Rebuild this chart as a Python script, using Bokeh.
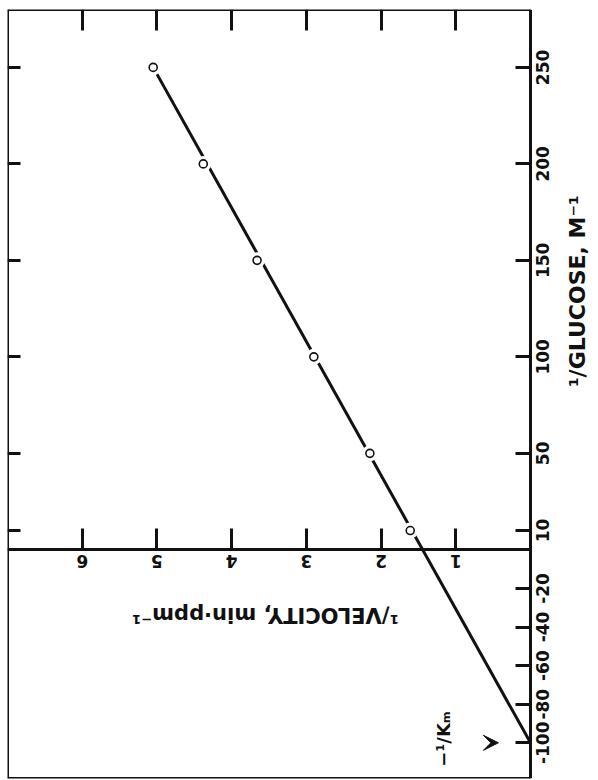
import math
from bokeh.plotting import figure
from bokeh.models import Range1d, LinearAxis, FixedTicker, Label, Arrow, VeeHead
from bokeh.embed import file_html
from bokeh.resources import INLINE
from bokeh.core.properties import value

# ---- data read from the (rotated) Lineweaver-Burk plot ----
inv_glucose = [250, 200, 150, 100, 50, 10]            # 1/[glucose], M^-1
inv_velocity = [5.05, 4.38, 3.66, 2.90, 2.15, 1.61]   # 1/v, min·ppm^-1
fit_glucose = [-100, 250]
fit_velocity = [0.0, 5.05]
neg_inv_km = -100

glucose_ticks = [-100, -80, -60, -40, -20, 10, 50, 100, 150, 200, 250]
glucose_tick_labels = ["-100", "-80", "-60", "-40", "-20", "10", "50", "100", "150", "200", "250"]
left_ticks = [10, 50, 100, 150, 200, 250]
velocity_ticks = [1, 2, 3, 4, 5, 6]
velocity_tick_labels = ["1", "2", "3", "4", "5", "6"]

V_MAX, V_MIN = 7.0, 0.0          # boxed 1/v extent
G_MIN, G_MAX = -118.5, 280.0     # 1/glucose extent

FONT = "DejaVu Sans"
INK = "#111111"

p = figure(width=596, height=780,
           x_range=Range1d(V_MAX, -0.883), y_range=Range1d(G_MIN, G_MAX),
           x_axis_location=None, y_axis_location=None,
           toolbar_location=None, output_backend="svg",
           min_border_left=7, min_border_top=9, min_border_bottom=2, min_border_right=0)
p.grid.visible = False
p.outline_line_color = None
p.background_fill_color = "white"
p.border_fill_color = "white"


def style(ax, tick_in):
    ax.major_tick_in = tick_in
    ax.major_tick_out = 0
    ax.major_tick_line_width = 3
    ax.major_tick_line_color = INK
    ax.minor_tick_line_color = None
    ax.axis_line_width = 3
    ax.axis_line_color = INK
    ax.major_label_standoff = 0


def axis(ticks, loc, tick_in, bounds=None):
    ax = LinearAxis(ticker=FixedTicker(ticks=ticks), fixed_location=loc,
                    major_label_overrides={t: "" for t in ticks})
    if bounds is not None:
        ax.bounds = bounds
    style(ax, tick_in)
    return ax


# box: top (with 1/v ticks), bottom, left (ticks), right (1/v = 0, with 1/glucose ticks)
p.add_layout(axis(velocity_ticks, G_MAX, 21, (V_MIN, V_MAX)), "above")
p.add_layout(axis([], G_MIN, 0, (V_MIN, V_MAX)), "below")
p.add_layout(axis(left_ticks, V_MAX, 13), "left")
p.add_layout(axis(glucose_ticks, V_MIN, 15), "right")
# 1/v axis drawn at 1/glucose = 0
p.add_layout(axis(velocity_ticks, 0, 21, (V_MIN, V_MAX)), "below")

# rotated 1/glucose tick labels, just outside the right edge of the box
p.text(x=[V_MIN] * len(glucose_ticks), y=glucose_ticks, text=glucose_tick_labels,
       angle=math.pi / 2, text_align="center", text_baseline="top", x_offset=5,
       text_font=value(FONT), text_font_size="17px", text_font_style="bold", text_color=INK)

# upside-down 1/v tick labels under the zero axis
p.text(x=velocity_ticks, y=[0] * len(velocity_ticks), text=velocity_tick_labels,
       angle=math.pi, text_align="center", text_baseline="bottom", y_offset=5,
       text_font=value(FONT), text_font_size="17px", text_font_style="bold", text_color=INK)

# fitted line, with gaps around the markers
p.line(x=fit_velocity, y=fit_glucose, line_width=3, line_color=INK)
p.scatter(x=inv_velocity, y=inv_glucose, size=16, fill_color="white", line_color=None)
p.scatter(x=inv_velocity, y=inv_glucose, size=8, fill_color="white", line_color=INK, line_width=1.6)

# axis titles
p.add_layout(Label(x=-0.63, y=138, text="¹/GLUCOSE,   M⁻¹", angle=math.pi / 2,
                   text_align="center", text_baseline="middle",
                   text_font=FONT, text_font_size="22px", text_font_style="bold", text_color=INK))
p.add_layout(Label(x=3.55, y=-34, text="¹/VELOCITY, min·ppm⁻¹", angle=math.pi,
                   text_align="center", text_baseline="middle",
                   text_font=FONT, text_font_size="21px", text_font_style="bold", text_color=INK))

# -1/Km marker
p.add_layout(Label(x=1.17, y=neg_inv_km + 2, text="−¹/Kₘ", angle=math.pi / 2,
                   text_align="center", text_baseline="middle",
                   text_font=FONT, text_font_size="18px", text_font_style="bold", text_color=INK))
p.add_layout(Arrow(end=VeeHead(size=15, fill_color=INK, line_color=INK),
                   x_start=0.75, y_start=neg_inv_km, x_end=0.43, y_end=neg_inv_km,
                   line_alpha=0, line_width=0))

open("out.html", "w").write(file_html(p, INLINE))
